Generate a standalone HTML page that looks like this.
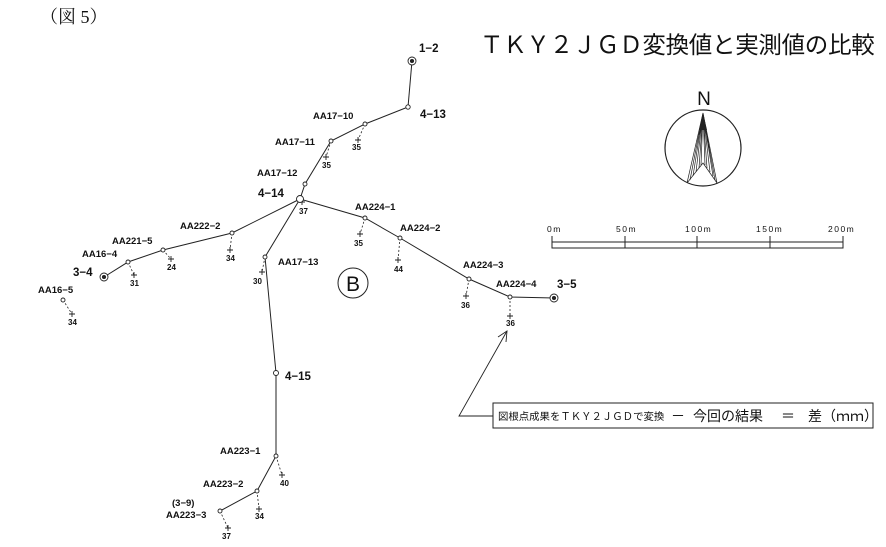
<!DOCTYPE html>
<html><head><meta charset="utf-8"><style>
html,body{margin:0;padding:0;background:#fff;}
svg{display:block;}
text{font-family:"Liberation Sans","Noto Sans CJK JP",sans-serif;fill:#111;}
.l{font-size:9.5px;font-weight:bold;}
.n{font-size:8px;font-weight:bold;}
.b{font-size:11.5px;font-weight:bold;}
</style></head><body>
<svg width="886" height="547" viewBox="0 0 886 547" xmlns="http://www.w3.org/2000/svg">
<text x="40" y="23" style="font-family:'Liberation Serif','Noto Serif CJK SC',serif;font-size:18px">（図 5）</text>
<text x="480" y="53" style="font-size:23.5px;letter-spacing:-0.3px">ＴＫＹ２ＪＧＤ変換値と実測値の比較</text>

<g stroke="#222" stroke-width="1" fill="none">
<polyline points="412,61 408,107 365,124 331,141 305,184 300,199"/>
<polyline points="300,199 232,233 163,250 128,262 104,277"/>
<polyline points="300,199 365,218 400,238 469,279 510,297 554,298"/>
<polyline points="300,199 265,257 276,373 276,456 257,491 220,511"/>
</g>
<g stroke="#222" stroke-width="0.8" fill="none" stroke-dasharray="2,2">
<line x1="365" y1="124" x2="358" y2="140"/>
<line x1="331" y1="141" x2="326" y2="157"/>
<line x1="365" y1="218" x2="360" y2="234"/>
<line x1="400" y1="238" x2="398" y2="260"/>
<line x1="469" y1="279" x2="466" y2="296"/>
<line x1="510" y1="297" x2="510" y2="316"/>
<line x1="232" y1="233" x2="230" y2="250"/>
<line x1="163" y1="250" x2="171" y2="259"/>
<line x1="128" y1="262" x2="134" y2="275"/>
<line x1="63" y1="300" x2="72" y2="314"/>
<line x1="265" y1="257" x2="262" y2="272"/>
<line x1="276" y1="456" x2="282" y2="475"/>
<line x1="257" y1="491" x2="259" y2="509"/>
<line x1="220" y1="511" x2="228" y2="528"/>
</g>
<g stroke="#222" stroke-width="0.9">
<path d="M355 140h6M358 137v6 M323 157h6M326 154v6 M299 202h6M302 199v6 M357 234h6M360 231v6 M395 260h6M398 257v6 M463 296h6M466 293v6 M507 316h6M510 313v6 M227 250h6M230 247v6 M168 259h6M171 256v6 M131 275h6M134 272v6 M69 314h6M72 311v6 M259 272h6M262 269v6 M279 475h6M282 472v6 M256 509h6M259 506v6 M225 528h6M228 525v6"/>
</g>
<g stroke="#222" stroke-width="0.9" fill="#fff">
<circle cx="412" cy="61" r="4"/><circle cx="412" cy="61" r="1.6" fill="#222"/>
<circle cx="104" cy="277" r="4"/><circle cx="104" cy="277" r="1.6" fill="#222"/>
<circle cx="554" cy="298" r="4"/><circle cx="554" cy="298" r="1.6" fill="#222"/>
<circle cx="408" cy="107" r="2.2"/><circle cx="365" cy="124" r="2"/><circle cx="331" cy="141" r="2"/>
<circle cx="305" cy="184" r="2"/><circle cx="300" cy="199" r="3.5"/><circle cx="365" cy="218" r="2"/>
<circle cx="400" cy="238" r="2"/><circle cx="469" cy="279" r="2"/><circle cx="510" cy="297" r="2"/>
<circle cx="232" cy="233" r="2"/><circle cx="163" cy="250" r="2"/><circle cx="128" cy="262" r="2"/>
<circle cx="63" cy="300" r="2"/><circle cx="265" cy="257" r="2"/><circle cx="276" cy="373" r="2.5"/>
<circle cx="276" cy="456" r="2"/><circle cx="257" cy="491" r="2"/><circle cx="220" cy="511" r="2"/>
</g>
<text class="b" x="419" y="52">1−2</text>
<text class="b" x="420" y="118">4−13</text>
<text class="l" x="313" y="119">AA17−10</text>
<text class="n" x="352" y="150">35</text>
<text class="l" x="275" y="145">AA17−11</text>
<text class="n" x="322" y="168">35</text>
<text class="l" x="257" y="176">AA17−12</text>
<text class="b" x="258" y="197">4−14</text>
<text class="n" x="299" y="214">37</text>
<text class="l" x="355" y="210">AA224−1</text>
<text class="n" x="354" y="246">35</text>
<text class="l" x="400" y="231">AA224−2</text>
<text class="n" x="394" y="272">44</text>
<text class="l" x="463" y="268">AA224−3</text>
<text class="n" x="461" y="308">36</text>
<text class="l" x="496" y="287">AA224−4</text>
<text class="n" x="506" y="326">36</text>
<text class="b" x="557" y="288">3−5</text>
<text class="l" x="180" y="229">AA222−2</text>
<text class="n" x="226" y="261">34</text>
<text class="l" x="112" y="244">AA221−5</text>
<text class="n" x="167" y="270">24</text>
<text class="l" x="82" y="257">AA16−4</text>
<text class="n" x="130" y="286">31</text>
<text class="b" x="73" y="276">3−4</text>
<text class="l" x="38" y="293">AA16−5</text>
<text class="n" x="68" y="325">34</text>
<text class="l" x="278" y="265">AA17−13</text>
<text class="n" x="253" y="284">30</text>
<text class="b" x="285" y="380">4−15</text>
<text class="l" x="220" y="454">AA223−1</text>
<text class="n" x="280" y="486">40</text>
<text class="l" x="203" y="487">AA223−2</text>
<text class="n" x="255" y="519">34</text>
<text class="l" x="172" y="506">(3−9)</text>
<text class="l" x="166" y="518">AA223−3</text>
<text class="n" x="222" y="539">37</text>
<circle cx="353" cy="283" r="15" fill="none" stroke="#222" stroke-width="1"/>
<text x="353" y="291" text-anchor="middle" style="font-size:21px">B</text>
<text x="704" y="105" text-anchor="middle" style="font-size:19px">N</text>
<circle cx="703" cy="148" r="38" fill="none" stroke="#222" stroke-width="1.2"/>
<g stroke="#222" stroke-width="0.7" fill="none">
<path d="M703 113L687 183L703 163L717 183Z"/>
<path d="M703 113L690 180M703 113L693 176M703 113L696 172M703 113L699 168M703 113L701 165M703 113L705 165M703 113L707 168M703 113L710 172M703 113L713 176M703 113L715 180"/>
</g>
<path d="M703 113L699 130L707 130Z" fill="#222"/>
<g stroke="#222" stroke-width="1" fill="none">
<rect x="552" y="242" width="291" height="6"/>
<path d="M552 236v12M625 236v12M697 236v12M770 236v12M843 236v12"/>
</g>
<g style="font-size:8.5px;letter-spacing:1.5px">
<text x="547" y="232">0m</text><text x="616" y="232">50m</text><text x="685" y="232">100m</text><text x="756" y="232">150m</text><text x="828" y="232">200m</text>
</g>
<rect x="493" y="403" width="380" height="25" fill="none" stroke="#222" stroke-width="1"/>
<path d="M493 416H459L507 331" fill="none" stroke="#222" stroke-width="0.9"/>
<path d="M498 337L507 331L506 342" fill="none" stroke="#222" stroke-width="0.9"/>
<text x="498" y="420" style="font-size:10.4px">図根点成果をＴＫＹ２ＪＧＤで変換</text>
<text x="671" y="421" style="font-size:14px">－</text>
<text x="693" y="421" style="font-size:14px">今回の結果</text>
<text x="781" y="421" style="font-size:14px">＝</text>
<text x="808" y="421" style="font-size:14px">差（ｍｍ）</text>
</svg>
</body></html>
